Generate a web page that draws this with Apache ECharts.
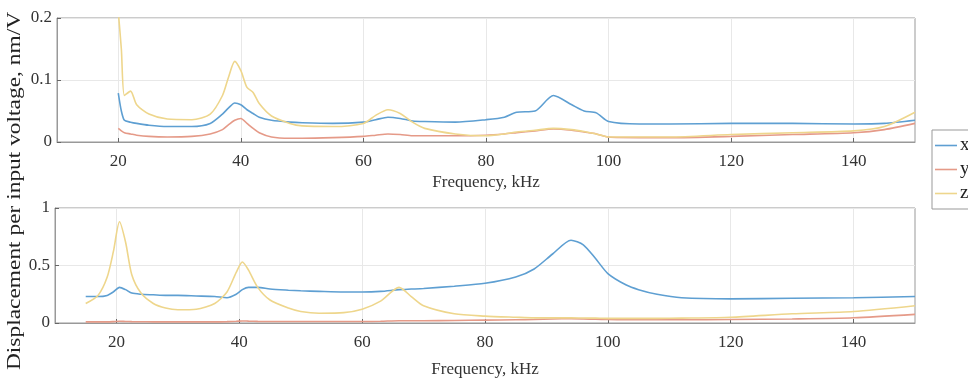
<!DOCTYPE html>
<html>
<head>
<meta charset="utf-8">
<script src="https://cdn.jsdelivr.net/npm/echarts@6/dist/echarts.min.js"></script>
<style>
  html, body { margin: 0; padding: 0; background: #fff; }
  #chart { width: 968px; height: 383px; }
</style>
</head>
<body>
<div id="chart"></div>
<script>
// top panel (kHz, nm/V)
var topFreq = [20, 20.5, 21, 22, 23, 25, 28, 32, 35, 37, 38, 39, 40, 41, 42, 43, 45, 48, 50, 55,
  60, 62, 64, 66, 68, 70, 75, 80, 83, 85, 88, 91, 94, 96, 98, 100, 105, 110, 120, 130, 140, 145, 150];
var topX = [0.079, 0.05, 0.035, 0.032, 0.03, 0.027, 0.025, 0.025, 0.03, 0.045, 0.055, 0.063, 0.06, 0.052, 0.046, 0.04, 0.035, 0.032, 0.031, 0.03,
  0.032, 0.036, 0.04, 0.038, 0.034, 0.033, 0.032, 0.036, 0.04, 0.048, 0.05, 0.075, 0.06, 0.05, 0.047, 0.033, 0.029, 0.029, 0.03, 0.03, 0.029, 0.03, 0.035];
var topY = [0.022, 0.018, 0.015, 0.013, 0.011, 0.009, 0.008, 0.009, 0.013, 0.02, 0.028, 0.035, 0.038, 0.03, 0.022, 0.015, 0.008, 0.006, 0.006, 0.007,
  0.009, 0.011, 0.013, 0.012, 0.01, 0.01, 0.01, 0.011, 0.013, 0.015, 0.018, 0.021, 0.019, 0.016, 0.013, 0.008, 0.007, 0.007, 0.009, 0.012, 0.015, 0.02, 0.03];
var topZ = [0.21, 0.15, 0.075, 0.082, 0.06, 0.045, 0.037, 0.036, 0.045, 0.075, 0.105, 0.13, 0.115, 0.088, 0.08, 0.062, 0.042, 0.03, 0.026, 0.025,
  0.03, 0.043, 0.052, 0.046, 0.032, 0.022, 0.013, 0.01, 0.013, 0.016, 0.019, 0.022, 0.02, 0.017, 0.013, 0.008, 0.008, 0.008, 0.012, 0.015, 0.018, 0.025, 0.048];

// bottom panel
var botFreq = [15, 17, 18.5, 19.5, 20.5, 21.5, 22.5, 24, 26, 28, 30, 33, 36, 38, 39.5, 40.5, 41.5, 43, 45, 48,
  50, 53, 57, 60, 63, 66, 68, 70, 75, 80, 85, 88, 91, 94, 96, 98, 100, 103, 105, 108, 112, 120, 130, 140, 150];
var botX = [0.23, 0.23, 0.24, 0.27, 0.31, 0.29, 0.26, 0.25, 0.245, 0.24, 0.24, 0.235, 0.23, 0.22, 0.25, 0.29, 0.31, 0.31, 0.295, 0.285,
  0.28, 0.275, 0.27, 0.27, 0.275, 0.29, 0.295, 0.3, 0.32, 0.345, 0.4, 0.47, 0.6, 0.72, 0.68, 0.56, 0.43, 0.33, 0.29, 0.25, 0.22, 0.21, 0.215, 0.22, 0.23];
var botY = [0.01, 0.01, 0.01, 0.012, 0.015, 0.013, 0.012, 0.011, 0.01, 0.01, 0.01, 0.01, 0.01, 0.012, 0.015, 0.018, 0.016, 0.014, 0.013, 0.013,
  0.013, 0.013, 0.013, 0.013, 0.015, 0.02, 0.02, 0.02, 0.022, 0.025, 0.028, 0.03, 0.035, 0.037, 0.035, 0.032, 0.03, 0.028, 0.028, 0.028, 0.028, 0.03, 0.035, 0.045, 0.075];
var botZ = [0.17, 0.24, 0.4, 0.62, 0.88, 0.7, 0.42, 0.26, 0.17, 0.13, 0.115, 0.12, 0.17, 0.27, 0.44, 0.53, 0.46, 0.31, 0.2, 0.13,
  0.1, 0.085, 0.09, 0.12, 0.19, 0.31, 0.23, 0.15, 0.08, 0.06, 0.05, 0.045, 0.045, 0.045, 0.043, 0.042, 0.04, 0.04, 0.04, 0.04, 0.042, 0.05, 0.08, 0.1, 0.15];

var names = ['x', 'y', 'z'];
var colors = ['#5e9fd2', '#e59a88', '#eed68c'];
var freqTicks = [20, 40, 60, 80, 100, 120, 140];

function pairs(xs, ys) {
  return xs.map(function (f, i) { return [f, ys[i]]; });
}

var font = 'Liberation Serif';
var axisText = { color: '#333', fontFamily: font, fontSize: 17 };

function xAxisFor(idx, gap) {
  return {
    type: 'value', gridIndex: idx, min: 10, max: 150, interval: 10,
    name: 'Frequency, kHz', nameLocation: 'middle', nameGap: gap,
    nameTextStyle: axisText,
    axisLine: { lineStyle: { color: '#999' } },
    axisTick: {
      inside: true, length: 4, lineStyle: { color: '#666' },
      customValues: freqTicks
    },
    axisLabel: Object.assign({ margin: 11, customValues: freqTicks }, axisText),
    splitLine: { show: true, lineStyle: { color: '#e8e8e8' } }
  };
}

function yAxisFor(idx, max, step) {
  return {
    type: 'value', gridIndex: idx, min: 0, max: max, interval: step,
    axisLine: { show: true, lineStyle: { color: '#999' } },
    axisTick: { show: true, inside: true, length: 4, lineStyle: { color: '#666' } },
    axisLabel: Object.assign({ margin: 5 }, axisText),
    splitLine: { show: true, lineStyle: { color: '#e8e8e8' } }
  };
}

function lineSeries(name, color, idx, data) {
  return {
    name: name, type: 'line', xAxisIndex: idx, yAxisIndex: idx,
    data: data, showSymbol: false, smooth: 0.25, clip: true,
    lineStyle: { color: color, width: 1.6 }, itemStyle: { color: color }
  };
}

var chart = echarts.init(document.getElementById('chart'));
chart.setOption({
  backgroundColor: '#fff',
  animation: false,
  grid: [
    { left: 57, right: 53, top: 18, height: 124, show: true, borderColor: '#999', borderWidth: 1 },
    { left: 55, right: 53, top: 208, height: 115, show: true, borderColor: '#999', borderWidth: 1 }
  ],
  xAxis: [xAxisFor(0, 32), xAxisFor(1, 38)],
  yAxis: [yAxisFor(0, 0.2, 0.1), yAxisFor(1, 1, 0.5)],
  legend: {
    orient: 'vertical', left: 932, top: 130,
    data: names,
    icon: 'rect', itemWidth: 22, itemHeight: 1.6, itemGap: 5,
    padding: [6, 8, 6, 3],
    borderColor: '#999', borderWidth: 1, backgroundColor: '#fff',
    textStyle: { fontFamily: font, fontSize: 19, color: '#222', padding: [0, 0, 0, -2] }
  },
  graphic: [{
    type: 'text', x: 15, y: 191, rotation: Math.PI / 2, scaleX: 1.3,
    style: {
      text: 'Displacement per input voltage, nm/V',
      fontFamily: font, fontSize: 18, fill: '#222',
      align: 'center', verticalAlign: 'middle'
    }
  }],
  series: [
    lineSeries(names[0], colors[0], 0, pairs(topFreq, topX)),
    lineSeries(names[1], colors[1], 0, pairs(topFreq, topY)),
    lineSeries(names[2], colors[2], 0, pairs(topFreq, topZ)),
    lineSeries(names[0], colors[0], 1, pairs(botFreq, botX)),
    lineSeries(names[1], colors[1], 1, pairs(botFreq, botY)),
    lineSeries(names[2], colors[2], 1, pairs(botFreq, botZ))
  ]
});
</script>
</body>
</html>
